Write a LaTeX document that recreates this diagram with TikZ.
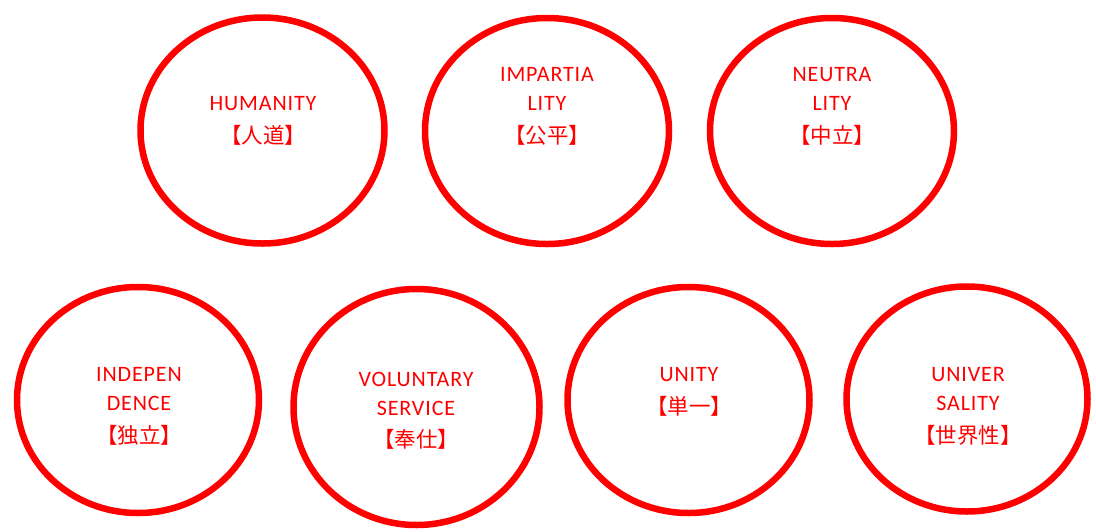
\documentclass[tikz,border=0pt]{standalone}
\usepackage{fontspec}
\setmainfont{Carlito}[LetterSpace=4]
\newfontfamily\cjk{Noto Sans CJK JP}
\definecolor{redc}{RGB}{255,0,0}
\newcommand{\cj}[1]{{\cjk\fontsize{21.5}{29}\selectfont #1}}
\begin{document}
\begin{tikzpicture}[x=1pt,y=1pt,
  circ/.style={draw=redc,line width=6.5pt},
  txt/.style={text=redc,align=center,font=\fontsize{22}{29}\selectfont,inner sep=0pt}]
\useasboundingbox (0,0) rectangle (1096,-531);
\draw[circ] (262.5,-130.5) ellipse [x radius=122, y radius=113];
\draw[circ] (547,-131) ellipse [x radius=122, y radius=113];
\draw[circ] (832,-131) ellipse [x radius=122, y radius=113];
\draw[circ] (138,-400) ellipse [x radius=121, y radius=113];
\draw[circ] (416.5,-407) ellipse [x radius=123, y radius=118];
\draw[circ] (688.5,-400) ellipse [x radius=121, y radius=113];
\draw[circ] (967,-399) ellipse [x radius=120.5, y radius=112.5];
\node[txt] (t1) at (263,-120.5) {HUMANITY\\[4pt]\cj{【人道】}};
\node[txt] (t2) at (547,-106) {IMPARTIA\\LITY\\[4pt]\cj{【公平】}};
\node[txt] (t3) at (832,-106) {NEUTRA\\LITY\\[4pt]\cj{【中立】}};
\node[txt] (t4) at (139,-406) {INDEPEN\\DENCE\\[4pt]\cj{【独立】}};
\node[txt] (t5) at (416,-410.5) {VOLUNTARY\\SERVICE\\[3pt]\cj{【奉仕】}};
\node[txt] (t6) at (689,-391.5) {UNITY\\[4pt]\cj{【単一】}};
\node[txt] (t7) at (968,-406) {UNIVER\\SALITY\\[4pt]\cj{【世界性】}};
\end{tikzpicture}
\end{document}
